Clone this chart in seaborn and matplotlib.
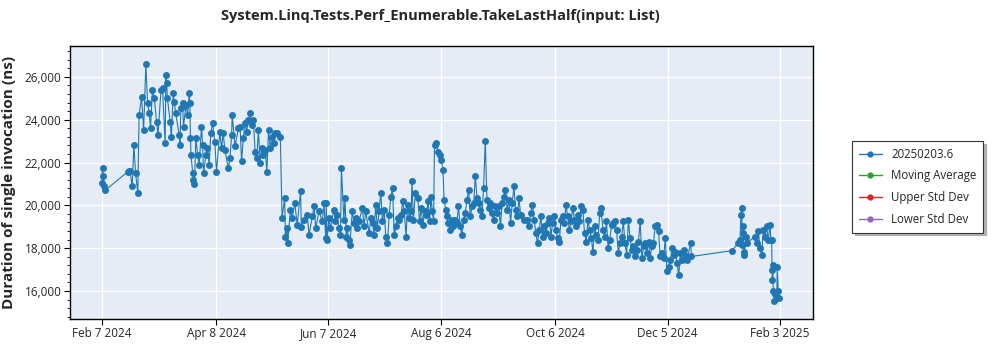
import numpy as np
import pandas as pd
import matplotlib
matplotlib.use("Agg")
import matplotlib.pyplot as plt
from matplotlib.lines import Line2D
from matplotlib.ticker import MultipleLocator, FuncFormatter
import seaborn as sns

title = "System.Linq.Tests.Perf_Enumerable.TakeLastHalf(input: List)"
ylabel = "Duration of single invocation (ns)"
legend_labels = ["20250203.6", "Moving Average", "Upper Std Dev", "Lower Std Dev"]
legend_colors = ["#1f77b4", "#2ca02c", "#d62728", "#9467bd"]

start_date = "2024-02-07"
tick_dates = ["2024-02-07", "2024-04-08", "2024-06-07", "2024-08-06",
              "2024-10-06", "2024-12-05", "2025-02-03"]
tick_labels = ["Feb 7 2024", "Apr 8 2024", "Jun 7 2024", "Aug 6 2024",
               "Oct 6 2024", "Dec 5 2024", "Feb 3 2025"]

days_since_start = [
    0.0, 0.4, 0.8, 1.2, 1.8, 14.0, 14.5, 15.0, 16.2, 17.1,
    18.0, 19.2, 19.9, 21.2, 22.3, 23.5, 24.4, 25.3, 26.0, 27.0,
    28.0, 29.2, 30.0, 31.6, 32.4, 33.8, 34.2, 34.6, 35.0, 36.5,
    37.1, 38.1, 38.6, 39.4, 41.3, 41.7, 42.2, 43.1, 43.6, 44.9,
    45.8, 46.7, 47.0, 47.3, 47.6, 48.5, 48.9, 49.4, 50.2, 51.1,
    52.0, 53.2, 53.8, 54.3, 55.6, 56.4, 57.3, 58.2, 59.1, 60.3,
    61.2, 63.0, 63.9, 64.8, 65.7, 67.5, 68.4, 69.3, 69.6, 71.1,
    72.9, 73.8, 74.6, 75.5, 76.4, 77.3, 78.2, 79.1, 80.0, 80.9,
    81.8, 82.7, 83.6, 84.5, 85.4, 86.3, 87.2, 88.1, 89.0, 89.9,
    90.8, 91.7, 92.6, 93.5, 95.3, 96.2, 97.6, 98.0, 98.9, 99.2,
    100.7, 101.6, 103.0, 104.3, 106.1, 106.5, 107.9, 109.7, 110.6, 112.4,
    113.3, 114.2, 115.9, 117.7, 118.6, 119.5, 119.8, 120.3, 121.2, 122.0,
    123.8, 124.7, 125.6, 126.5, 127.4, 127.9, 129.2, 129.8, 130.5, 131.0,
    131.9, 132.4, 133.7, 134.6, 135.5, 136.4, 137.3, 139.1, 140.0, 140.9,
    142.7, 143.6, 144.5, 145.3, 146.2, 147.1, 148.0, 148.9, 149.8, 150.7,
    151.6, 152.5, 153.4, 154.3, 155.2, 156.1, 157.0, 157.9, 158.8, 159.7,
    160.6, 161.5, 162.4, 163.3, 164.2, 165.1, 165.6, 166.3, 167.4, 168.7,
    169.6, 170.5, 171.4, 172.3, 173.2, 174.1, 175.0, 175.8, 176.4, 177.1,
    177.6, 178.5, 179.4, 180.3, 181.2, 182.1, 182.7, 183.6, 184.1, 185.0,
    185.9, 186.8, 187.7, 188.6, 189.5, 190.4, 191.3, 192.2, 193.1, 194.0,
    194.9, 195.8, 196.7, 197.6, 198.5, 199.4, 200.3, 201.1, 202.0, 202.9,
    203.8, 204.7, 205.6, 206.5, 207.4, 208.3, 209.2, 210.1, 211.0, 211.9,
    212.8, 213.7, 214.6, 215.5, 216.4, 217.3, 218.2, 219.1, 220.0, 220.9,
    221.8, 222.7, 223.6, 225.4, 227.2, 228.1, 229.0, 229.9, 230.8, 231.7,
    232.6, 233.5, 234.4, 235.3, 236.2, 237.1, 238.0, 238.9, 239.8, 240.6,
    241.5, 242.4, 243.3, 244.2, 245.1, 246.0, 246.9, 247.8, 248.7, 249.6,
    250.5, 251.4, 252.3, 253.2, 254.1, 255.0, 255.9, 256.8, 257.7, 258.6,
    259.5, 260.4, 261.3, 262.2, 263.1, 264.0, 264.9, 265.8, 266.3, 267.6,
    268.5, 269.4, 270.3, 271.2, 272.1, 273.0, 273.9, 274.8, 275.7, 276.6,
    277.5, 278.4, 279.3, 280.2, 281.1, 282.0, 282.9, 283.8, 284.7, 285.6,
    286.5, 287.4, 288.3, 289.2, 290.1, 291.0, 291.9, 292.7, 293.6, 294.5,
    295.4, 296.3, 297.2, 298.1, 299.0, 299.9, 300.8, 301.7, 302.6, 303.5,
    304.4, 305.3, 306.2, 307.1, 308.0, 308.9, 309.8, 310.7, 311.6, 312.5,
    314.3, 314.8, 336.3, 339.8, 340.7, 341.2, 341.6, 341.9, 342.1, 342.5,
    342.8, 343.0, 343.9, 344.2, 348.7, 349.6, 350.5, 351.4, 352.3, 353.1,
    354.0, 354.9, 355.8, 356.7, 357.2, 357.6, 357.8, 358.0, 358.1, 358.5,
    359.0, 359.4, 360.3, 360.6, 361.1, 361.7,
]

durations_ns = [
    21050, 21740, 21370, 20880, 20700, 21580, 21600, 21620, 20880, 22830,
    21500, 20570, 24230, 25050, 23520, 26600, 24770, 24300, 23600, 25390,
    25020, 23910, 23290, 25390, 25470, 22900, 26090, 25730, 25000, 23910,
    23170, 25230, 24850, 24300, 23290, 22820, 24540, 24770, 23680, 24680,
    24230, 25230, 24800, 23150, 22360, 21500, 21190, 20990, 23140, 22360,
    21890, 23680, 22820, 21500, 22360, 22670, 21890, 23370, 23840, 22980,
    21580, 23440, 22670, 23370, 22590, 21740, 22200, 23290, 24230, 22750,
    23600, 23680, 22050, 23140, 23840, 23440, 23990, 24300, 23760, 23990,
    22510, 22200, 23520, 21970, 22670, 22360, 22590, 21580, 23520, 22670,
    23210, 22900, 23370, 23370, 23210, 19400, 20360, 18540, 18930, 18230,
    19790, 19400, 20100, 19090, 20650, 19000, 19320, 19560, 18630, 19480,
    19950, 18930, 19720, 19250, 20100, 18460, 20100, 18380, 19400, 18930,
    19790, 19250, 19560, 18930, 18620, 21740, 19320, 20330, 18540, 18930,
    18380, 18150, 19720, 19180, 19400, 18930, 19250, 19880, 19020, 19720,
    18700, 19400, 19180, 18620, 20020, 18930, 19720, 20570, 19250, 19790,
    18540, 18230, 19560, 20410, 20800, 18620, 19020, 19400, 19320, 19560,
    20180, 19720, 18540, 20020, 19400, 19720, 21150, 19320, 20570, 20330,
    19250, 19880, 19090, 19720, 19560, 20180, 19250, 20410, 19720, 19250,
    22820, 22900, 22510, 22360, 22120, 21660, 20250, 19790, 19480, 19180,
    18860, 19320, 19020, 19320, 19180, 19950, 19020, 18620, 19320, 19640,
    20250, 20720, 19480, 19950, 20100, 21350, 20330, 20100, 19790, 19480,
    20800, 23000, 20250, 19880, 20100, 19640, 19320, 19950, 19640, 19950,
    19020, 20100, 20410, 20720, 19790, 20250, 19180, 20100, 20880, 19790,
    19480, 20330, 19560, 19320, 19320, 19020, 19640, 20020, 19320, 18700,
    18230, 18860, 19480, 18540, 19020, 18700, 19180, 19400, 18540, 19180,
    19480, 18860, 18460, 18310, 19320, 19480, 19180, 20020, 19480, 18860,
    19250, 19880, 19320, 19020, 19560, 19250, 19950, 19790, 18700, 18310,
    19320, 18860, 18460, 17840, 19020, 18620, 18390, 19640, 19880, 18860,
    18540, 19250, 18000, 18390, 19090, 19180, 19250, 18860, 17770, 18230,
    18540, 19250, 18230, 17690, 19320, 18460, 17920, 18080, 17610, 17920,
    18310, 19250, 17530, 18080, 18230, 17770, 18310, 17530, 18080, 18230,
    19020, 19090, 18780, 17610, 17770, 17530, 18460, 16910, 17140, 17450,
    18000, 17690, 17840, 17300, 16750, 17770, 17450, 17920, 17610, 17450,
    18260, 17610, 17880, 18230, 18380, 19560, 19870, 18160, 19020, 18700,
    17840, 17690, 18540, 18230, 18540, 18230, 18780, 18000, 17690, 18860,
    18540, 19020, 18380, 19090, 18380, 18380, 17000, 16530, 17200, 15990,
    15520, 15840, 15680, 17140, 15990, 15680,
]

dates = pd.Timestamp(start_date) + pd.to_timedelta(days_since_start, unit="D")
df = pd.DataFrame({"date": dates, "duration": durations_ns})

sns.set_theme(style="darkgrid", rc={
    "axes.facecolor": "#E5ECF6",
    "grid.color": "white",
    "grid.linewidth": 1.0,
    "axes.edgecolor": "black",
    "axes.linewidth": 1.0,
})
plt.rcParams["font.family"] = ["Open Sans", "DejaVu Sans"]

fig = plt.figure(figsize=(10, 3.5), dpi=100)
ax = fig.add_axes([0.07, 0.0886, 0.743, 0.7804])

sns.lineplot(data=df, x="date", y="duration", ax=ax, estimator=None, sort=False,
             color="#1f77b4", linewidth=0.8, marker="o", markersize=5,
             markeredgewidth=0, legend=False)

ax.set_ylim(14690, 27450)
ax.set_xlim(pd.Timestamp("2024-01-21"), pd.Timestamp("2025-02-20 16:00"))
ax.yaxis.set_major_locator(MultipleLocator(2000))
ax.yaxis.set_minor_locator(MultipleLocator(400))
ax.yaxis.set_major_formatter(FuncFormatter(lambda v, p: f"{int(v):,}"))
ax.set_xticks(pd.to_datetime(tick_dates))
ax.set_xticklabels(tick_labels)
ax.tick_params(axis="both", which="major", labelsize=8.5, length=4, width=0.8,
               color="black", bottom=True, left=True, pad=2)
ax.tick_params(axis="y", which="minor", length=2.5, width=0.6, color="black", left=True)
ax.grid(True, which="major", color="white", linewidth=1.0)
ax.grid(False, which="minor")
for s in ax.spines.values():
    s.set_visible(True)
    s.set_color("black")
    s.set_linewidth(1.0)

ax.set_xlabel("")
ax.set_ylabel(ylabel, fontsize=11, fontweight="bold", labelpad=6)
fig.suptitle(title, fontsize=10.5, fontweight="bold", x=0.44, y=0.975)

handles = [Line2D([0], [0], color=c, marker="o", markersize=3.5, linewidth=1)
           for c in legend_colors]
leg = fig.legend(handles, legend_labels, loc="upper left", bbox_to_anchor=(0.846, 0.614),
                 fontsize=8.3, frameon=True, fancybox=False,
                 shadow={"color": "#888888", "alpha": 0.6},
                 edgecolor="#333333", facecolor="white", framealpha=1,
                 handlelength=2.0, borderpad=0.6, labelspacing=0.75)
leg.get_frame().set_linewidth(0.8)

fig.savefig("out.png", dpi=100)
